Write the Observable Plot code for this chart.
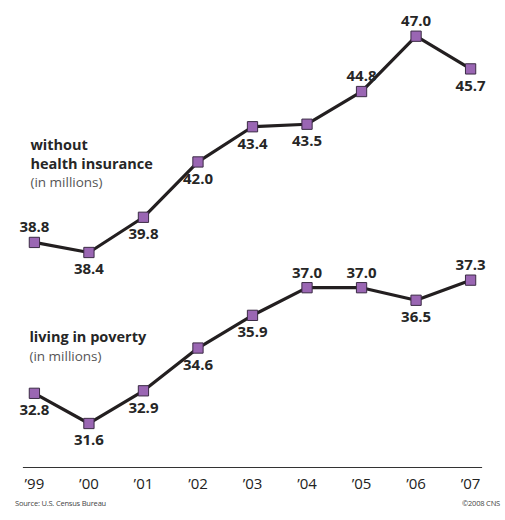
<!DOCTYPE html>
<html>
<head>
<meta charset="utf-8">
<script src="https://cdn.jsdelivr.net/npm/d3@7"></script>
<script src="https://cdn.jsdelivr.net/npm/@observablehq/plot@0.6"></script>
<style>
  html, body { margin: 0; padding: 0; background: #fff; }
  #wrap { width: 505px; font-family: "Open Sans", sans-serif; }
  #foot { display: flex; justify-content: space-between; font-size: 7.5px; color: #444;
          padding: 0 5px 0 15px; margin-top: 3px; line-height: 10px; letter-spacing: -0.2px; }
</style>
</head>
<body>
<div id="wrap">
  <div id="chart"></div>
  <div id="foot"><span>Source: U.S. Census Bureau</span><span>©2008 CNS</span></div>
</div>
<script>
const years = [1999, 2000, 2001, 2002, 2003, 2004, 2005, 2006, 2007];
const tickLabels = ["’99", "’00", "’01", "’02", "’03", "’04", "’05", "’06", "’07"];
const uninsured = [38.8, 38.4, 39.8, 42.0, 43.4, 43.5, 44.8, 47.0, 45.7];
const poverty = [32.8, 31.6, 32.9, 34.6, 35.9, 37.0, 37.0, 36.5, 37.3];
const uninsuredSide = ["above", "below", "below", "below", "below", "below", "above", "above", "below"];
const povertySide = ["below", "below", "below", "below", "below", "above", "above", "below", "above"];

const rows = [
  ...years.map((yr, i) => ({year: yr, value: uninsured[i], series: "uninsured", side: uninsuredSide[i]})),
  ...years.map((yr, i) => ({year: yr, value: poverty[i], series: "poverty", side: povertySide[i]}))
];

const labelStyle = {fontWeight: "bold", fontSize: 15, fill: "#262626"};

const chart = Plot.plot({
  width: 505,
  height: 495,
  marginLeft: 23,
  marginRight: 24,
  marginTop: 0,
  marginBottom: 28,
  style: {fontFamily: "Open Sans", fontSize: "15px", background: "#fff", color: "#222"},
  x: {domain: [1998.8, 2007.2], label: null},
  y: {domain: [29.85, 48.42], axis: null},
  marks: [
    Plot.axisX({ticks: years, tickFormat: d => tickLabels[years.indexOf(d)], tickSize: 0, tickPadding: 11, fontSize: 15, label: null}),
    Plot.frame({anchor: "bottom", stroke: "#333", strokeWidth: 1.2}),
    Plot.line(rows, {x: "year", y: "value", z: "series", stroke: "#231f20", strokeWidth: 3.2}),
    Plot.dot(rows, {x: "year", y: "value", symbol: "square", r: 5.8, fill: "#9a66b3", stroke: "#3b2b45", strokeWidth: 1}),
    Plot.text(rows.filter(d => d.side === "above"), {x: "year", y: "value", text: d => d.value.toFixed(1), dy: -15, ...labelStyle}),
    Plot.text(rows.filter(d => d.side === "below"), {x: "year", y: "value", text: d => d.value.toFixed(1), dy: 17, ...labelStyle}),
    Plot.text(["without\nhealth insurance"], {x: 1999, y: 42.35, dx: -4, textAnchor: "start", fontWeight: "bold", fontSize: 14.5, lineHeight: 1.3, fill: "#262626"}),
    Plot.text(["(in millions)"], {x: 1999, y: 41.18, dx: -4, textAnchor: "start", fontSize: 13.5, fill: "#555"}),
    Plot.text(["living in poverty"], {x: 1999, y: 35.02, dx: -5, textAnchor: "start", fontWeight: "bold", fontSize: 14.5, fill: "#262626"}),
    Plot.text(["(in millions)"], {x: 1999, y: 34.26, dx: -5, textAnchor: "start", fontSize: 13.5, fill: "#555"})
  ]
});
document.getElementById("chart").appendChild(chart);
</script>
</body>
</html>
